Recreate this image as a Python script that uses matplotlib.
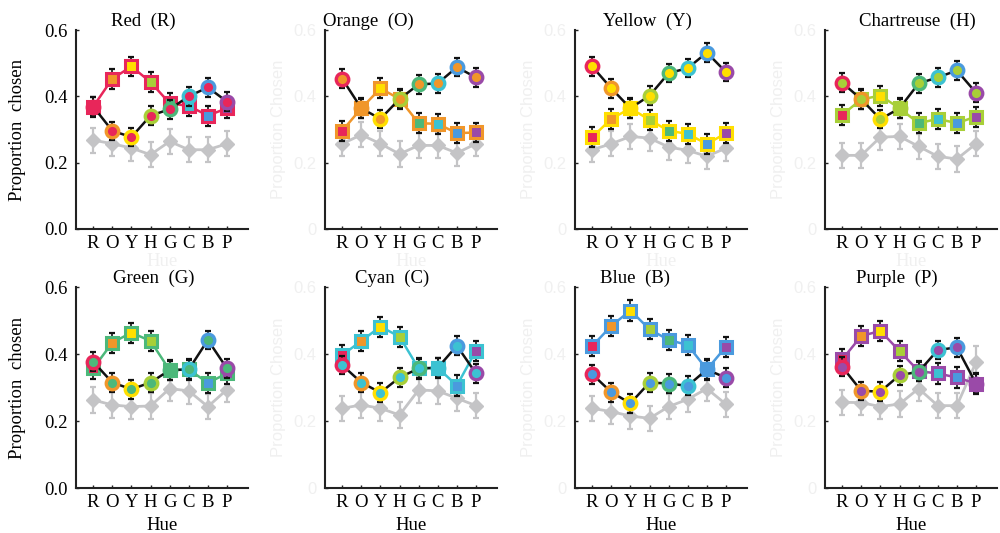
import numpy as np
import matplotlib
matplotlib.use('Agg')
import matplotlib.pyplot as plt

# hue order along the x axis
hues = ['R', 'O', 'Y', 'H', 'G', 'C', 'B', 'P']
names = ['Red', 'Orange', 'Yellow', 'Chartreuse', 'Green', 'Cyan', 'Blue', 'Purple']
hue_colors = ['#e8265a', '#f0962a', '#ffdf00', '#a8cf38', '#4cb87a',
              '#3cc2d2', '#4a9ade', '#9a4aa8']
gray = '#c4c4c6'

# circles (black line), one row per panel
circles = [
    [0.369, 0.296, 0.277, 0.342, 0.361, 0.400, 0.427, 0.384],
    [0.453, 0.364, 0.332, 0.392, 0.436, 0.439, 0.488, 0.457],
    [0.490, 0.424, 0.364, 0.402, 0.470, 0.485, 0.532, 0.473],
    [0.441, 0.391, 0.331, 0.364, 0.439, 0.457, 0.478, 0.411],
    [0.377, 0.315, 0.295, 0.315, 0.352, 0.354, 0.442, 0.357],
    [0.367, 0.315, 0.285, 0.330, 0.357, 0.359, 0.425, 0.342],
    [0.340, 0.286, 0.253, 0.315, 0.312, 0.305, 0.354, 0.329],
    [0.362, 0.290, 0.288, 0.337, 0.347, 0.412, 0.420, 0.312],
]
# squares (coloured line)
squares = [
    [0.369, 0.453, 0.490, 0.443, 0.379, 0.371, 0.342, 0.364],
    [0.296, 0.364, 0.424, 0.392, 0.319, 0.317, 0.289, 0.291],
    [0.277, 0.332, 0.364, 0.329, 0.296, 0.287, 0.256, 0.289],
    [0.344, 0.391, 0.402, 0.364, 0.319, 0.332, 0.319, 0.339],
    [0.357, 0.434, 0.464, 0.439, 0.352, 0.354, 0.314, 0.342],
    [0.397, 0.439, 0.482, 0.452, 0.357, 0.359, 0.306, 0.410],
    [0.424, 0.484, 0.530, 0.474, 0.442, 0.427, 0.354, 0.422],
    [0.384, 0.454, 0.469, 0.409, 0.349, 0.342, 0.330, 0.312],
]
# gray diamonds
diamonds = [
    [0.268, 0.257, 0.244, 0.224, 0.264, 0.239, 0.239, 0.257],
    [0.257, 0.284, 0.257, 0.226, 0.252, 0.252, 0.229, 0.257],
    [0.239, 0.257, 0.279, 0.274, 0.247, 0.237, 0.219, 0.244],
    [0.222, 0.222, 0.277, 0.279, 0.249, 0.219, 0.211, 0.257],
    [0.263, 0.248, 0.243, 0.245, 0.297, 0.290, 0.243, 0.294],
    [0.238, 0.248, 0.238, 0.218, 0.293, 0.290, 0.268, 0.246],
    [0.238, 0.228, 0.215, 0.208, 0.243, 0.265, 0.297, 0.250],
    [0.256, 0.255, 0.243, 0.251, 0.297, 0.246, 0.246, 0.375],
]
circ_err = 0.028
sq_err = 0.03
dia_err = [0.038] * 8
purple_dia_err = [0.038] * 7 + [0.05]

serif = 'Liberation Serif'
faint = '#f0f0f0'

fig = plt.figure(figsize=(10, 5.33), dpi=100)
lefts = [0.076, 0.325, 0.575, 0.825]
rows = [(0.5704, 0.3733), (0.0844, 0.377)]
title_x = [0.39, 0.25, 0.42, 0.535, 0.45, 0.39, 0.35, 0.42]

x = np.arange(len(hues))
for i in range(8):
    r, c = divmod(i, 4)
    ax = fig.add_axes([lefts[c], rows[r][0], 0.172, rows[r][1]])
    fc = hue_colors[i]

    # gray baseline
    derr = purple_dia_err if i == 7 else dia_err
    ax.errorbar(x, diamonds[i], yerr=derr, color=gray, marker='D', ms=7,
                lw=2, elinewidth=1.6, capsize=2, capthick=1.6, zorder=1)

    # squares
    ax.plot(x, squares[i], color=fc, lw=1.8, zorder=2)
    ax.errorbar(x, squares[i], yerr=sq_err, fmt='none', ecolor='#111111',
                elinewidth=1.2, capsize=2, capthick=1.6, zorder=2.5)
    for j in range(8):
        ax.plot(x[j], squares[i][j], 's', mfc=hue_colors[j], mec=fc,
                ms=8.5, mew=2.2, zorder=3)

    # circles
    ax.plot(x, circles[i], color='#111111', lw=1.8, zorder=4)
    ax.errorbar(x, circles[i], yerr=circ_err, fmt='none', ecolor='#111111',
                elinewidth=1.2, capsize=2, capthick=1.6, zorder=4.5)
    for j in range(8):
        ax.plot(x[j], circles[i][j], 'o', mfc=fc, mec=hue_colors[j],
                ms=9, mew=2.4, zorder=5)

    ax.set_xlim(-0.9, 8.1)
    ax.set_ylim(0, 0.6)
    for s in ['top', 'right']:
        ax.spines[s].set_visible(False)
    for s in ['left', 'bottom']:
        ax.spines[s].set_color('#222222')
        ax.spines[s].set_linewidth(1.5)
    ax.tick_params(direction='in', length=2, width=1, color='#222222')

    ax.set_xticks(x)
    ax.set_xticklabels(hues, fontfamily=serif, fontsize=13.5)
    ax.tick_params(axis='x', pad=4)
    ax.set_yticks([0, 0.2, 0.4, 0.6])

    if c == 0:
        ax.set_yticklabels(['0.0', '0.2', '0.4', '0.6'], fontfamily=serif,
                           fontsize=13.5)
        ax.set_ylabel('Proportion  chosen', fontfamily=serif, fontsize=13.5)
        ax.yaxis.set_label_coords(-50 / 172, 0.5)
    else:
        ax.set_yticklabels(['0', '0.2', '0.4', '0.6'], fontfamily='Liberation Sans',
                           fontsize=12, color=faint)
        ax.set_ylabel('Proportion Chosen', fontfamily='Liberation Sans',
                      fontsize=12, color=faint)
        ax.yaxis.set_label_coords(-39 / 172, 0.5)
    ax.tick_params(axis='y', pad=6)

    if r == 1:
        ax.set_xlabel('Hue', fontfamily=serif, fontsize=13.5, va='top')
        ax.xaxis.set_label_coords(0.5, -0.145)
    else:
        ax.set_xlabel('Hue', fontfamily=serif, fontsize=13.5, color=faint, va='top')
        ax.xaxis.set_label_coords(0.5, -0.12)

    ax.text(title_x[i], 1.02, names[i] + '  (' + hues[i] + ')',
            transform=ax.transAxes, ha='center', va='baseline',
            fontfamily=serif, fontsize=13.5)

plt.savefig('out.png', dpi=100)
